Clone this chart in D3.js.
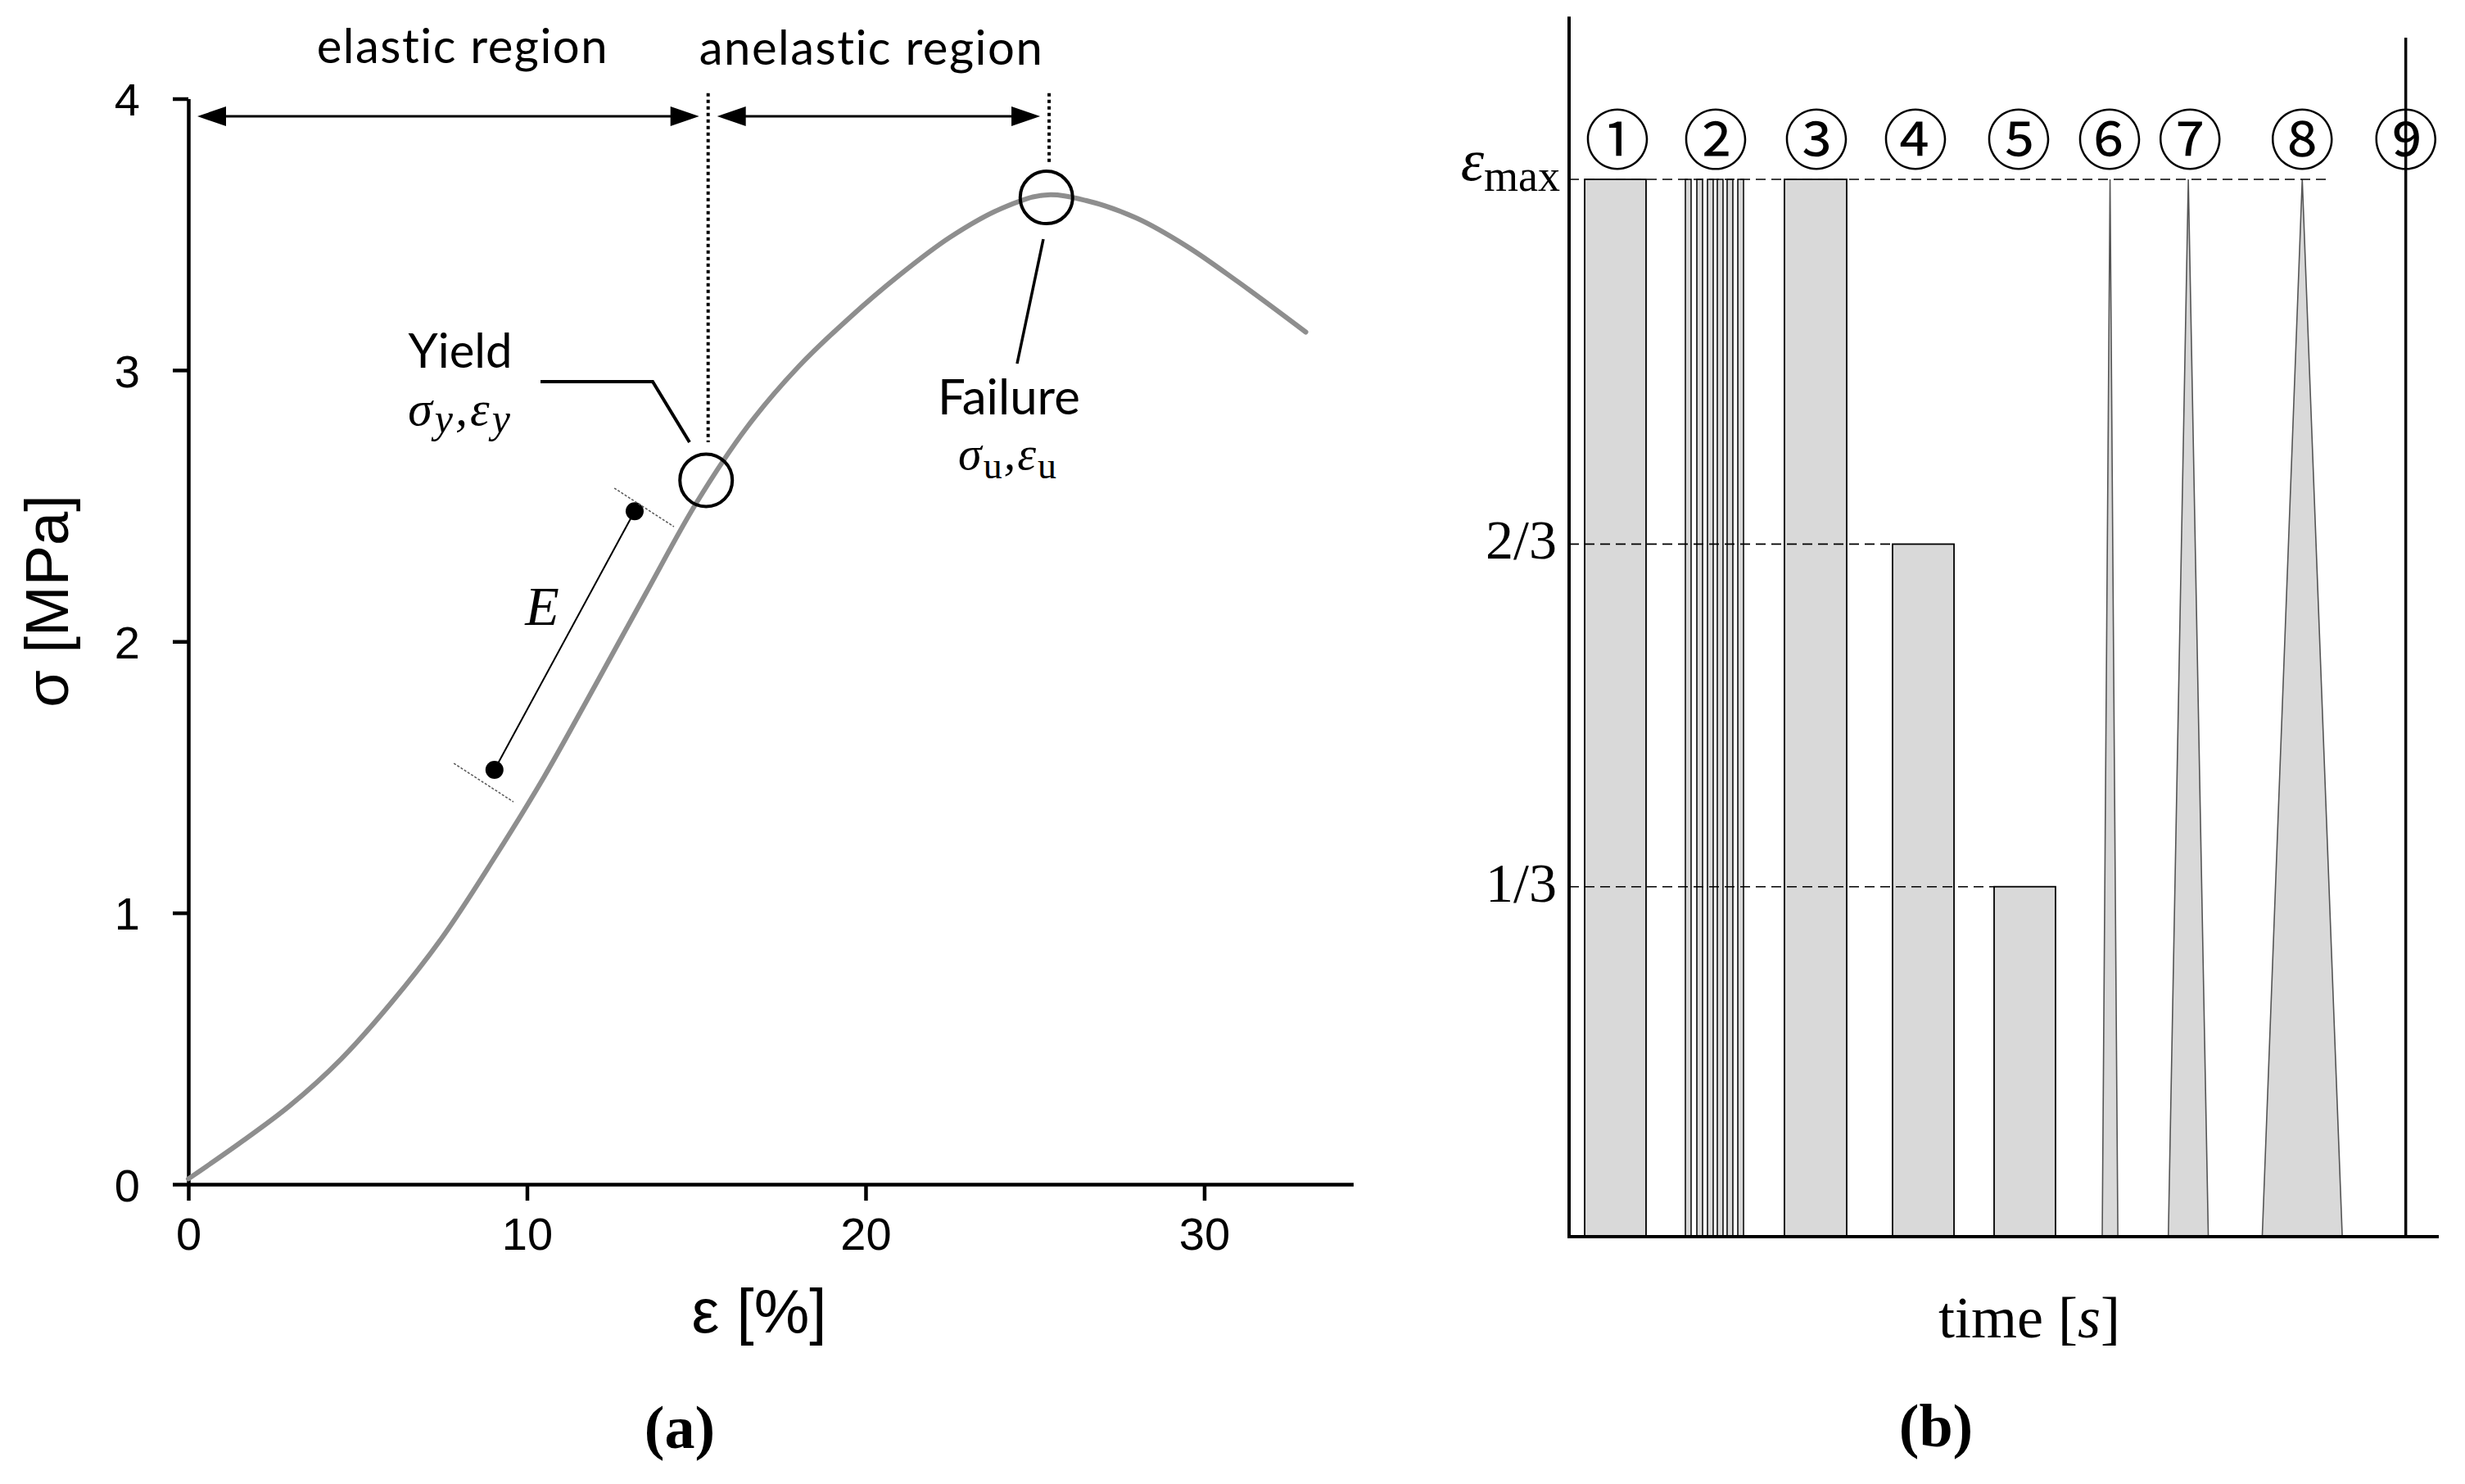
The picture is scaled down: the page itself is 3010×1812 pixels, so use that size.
<!DOCTYPE html>
<html><head><meta charset="utf-8">
<script src="https://cdn.jsdelivr.net/npm/d3@7/dist/d3.min.js"></script>
<style>body{margin:0;background:#fff}svg{display:block}</style>
</head><body>
<svg id="chart" width="3010" height="1812"></svg>
<script>
// ---------- Panel (a): stress-strain curve ----------
const strain = [0, 1.5, 3.0, 4.5, 6.0, 7.5, 9.0, 10.5, 12.0, 13.5, 15.0, 16.5, 18.0, 19.5, 21.0, 22.5, 24.0, 25.3, 26.5, 28.0, 29.5, 31.0, 33.0];
const stress = [0.02, 0.15, 0.29, 0.46, 0.67, 0.91, 1.195, 1.50, 1.835, 2.175, 2.51, 2.79, 3.01, 3.19, 3.35, 3.49, 3.595, 3.645, 3.625, 3.56, 3.455, 3.325, 3.14];
const xTicks = [0, 10, 20, 30];
const yTicks = [0, 1, 2, 3, 4];
const keyNames = ["Yield", "Failure"];
const keyStrain = [15.29, 25.34];
const keyStress = [2.594, 3.636];
const boundaryStrain = [15.35, 25.42];
const boundaryLow = [2.734, 3.757];
const regionNames = ["elastic region", "anelastic region"];
const regionFrom = [0, 15.35];
const regionTo = [15.35, 25.42];
const eStrain = [9.04, 13.18];
const eStress = [1.527, 2.48];
const eTickStrain = [[7.84, 9.60], [12.58, 14.34]];
const eTickStress = [[1.551, 1.409], [2.565, 2.423]];

// ---------- Panel (b): loading protocols ----------
const protocolLabels = ["①", "②", "③", "④", "⑤", "⑥", "⑦", "⑧", "⑨"];
const protocolTime = [5.56, 16.85, 28.44, 39.83, 51.7, 62.15, 71.4, 84.3, 96.2];
const levelLabels = ["max", "2/3", "1/3"];
const levelValues = [1, 0.655, 0.331];
const levelDashEnd = [87.3, 37.19, 48.87];
const holdStart = [1.79, 24.76, 37.19, 48.87];
const holdEnd = [8.85, 31.92, 44.26, 55.93];
const holdLevel = [1, 1, 0.655, 0.331];
const cycleStart = [13.37, 14.69, 15.91, 17.04, 18.17, 19.40];
const cycleEnd = [14.03, 15.35, 16.57, 17.70, 18.83, 20.06];
const rampStart = [61.3, 68.9, 79.7];
const rampPeak = [62.2, 71.2, 84.3];
const rampEnd = [63.1, 73.5, 88.9];
const breakTime = 96.2;

const svg = d3.select("#chart");
svg.append("rect").attr("width", 3010).attr("height", 1812).attr("fill", "#fff");

const x = d3.scaleLinear().domain([0, 34.4]).range([230, 1652.4]);
const y = d3.scaleLinear().domain([0, 4]).range([1446, 120.5]);

const sans = "'Liberation Sans', Arial, sans-serif";
const soft = "Lato, 'Open Sans', sans-serif";
const serif = "'Liberation Serif', 'DejaVu Serif', serif";

// axes
const gx = svg.append("g").attr("transform", `translate(0,${y(0)})`)
  .call(d3.axisBottom(x).tickValues(xTicks).tickFormat(d3.format("d")).tickSize(20).tickSizeOuter(0).tickPadding(20));
const gy = svg.append("g").attr("transform", `translate(${x(0)},0)`)
  .call(d3.axisLeft(y).tickValues(yTicks).tickFormat(d3.format("d")).tickSize(19).tickSizeOuter(0).tickPadding(40));
[gx, gy].forEach(g => {
  g.select(".domain").attr("stroke", "#000").attr("stroke-width", 4.5);
  g.selectAll(".tick line").attr("stroke", "#000").attr("stroke-width", 4.5);
  g.selectAll(".tick text").attr("font-family", sans).attr("font-size", 56).attr("fill", "#000");
});
gy.selectAll(".tick text").attr("dy", "0.36em");

svg.append("text").attr("x", 927).attr("y", 1627).attr("text-anchor", "middle")
  .attr("font-family", sans).attr("font-size", 76).text("ε [%]");
svg.append("text").attr("transform", "translate(83,734) rotate(-90)").attr("text-anchor", "middle")
  .attr("font-family", sans).attr("font-size", 74).text("σ [MPa]");

// curve
const pts = strain.map((s, i) => [s, stress[i]]);
svg.append("path").datum(pts)
  .attr("d", d3.line().x(d => x(d[0])).y(d => y(d[1])).curve(d3.curveCatmullRom.alpha(0.5)))
  .attr("fill", "none").attr("stroke", "#8e8e8e").attr("stroke-width", 6).attr("stroke-linecap", "round");

// boundary dotted lines
boundaryStrain.forEach((s, i) => {
  svg.append("line").attr("x1", x(s)).attr("x2", x(s)).attr("y1", y(4.02)).attr("y2", y(boundaryLow[i]))
    .attr("stroke", "#000").attr("stroke-width", 4).attr("stroke-dasharray", "4,4");
});

// region arrows
const arrowY = y(3.935);
function arrowHead(tipX, dir) {
  const L = 35, H = 12;
  return `M${tipX},${arrowY}L${tipX - dir * L},${arrowY - H}L${tipX - dir * L},${arrowY + H}Z`;
}
regionNames.forEach((name, i) => {
  const a = x(regionFrom[i]) + 11, b = x(regionTo[i]) - 11;
  svg.append("line").attr("x1", a + 10).attr("x2", b - 10).attr("y1", arrowY).attr("y2", arrowY)
    .attr("stroke", "#000").attr("stroke-width", 3);
  svg.append("path").attr("d", arrowHead(a, -1)).attr("fill", "#000");
  svg.append("path").attr("d", arrowHead(b, 1)).attr("fill", "#000");
});
svg.append("text").attr("x", x(8.1)).attr("y", 77).attr("text-anchor", "middle")
  .attr("font-family", soft).attr("font-size", 58).attr("letter-spacing", 1.5).text(regionNames[0]);
svg.append("text").attr("x", x(20.17)).attr("y", 79).attr("text-anchor", "middle")
  .attr("font-family", soft).attr("font-size", 58).attr("letter-spacing", 1.5).text(regionNames[1]);

// key point circles
keyStrain.forEach((s, i) => {
  svg.append("circle").attr("cx", x(s)).attr("cy", y(keyStress[i])).attr("r", 32)
    .attr("fill", "none").attr("stroke", "#000").attr("stroke-width", 4);
});

// yield label + leader
svg.append("path").attr("d", "M660,466L797,466L842,540").attr("fill", "none")
  .attr("stroke", "#000").attr("stroke-width", 4);
svg.append("text").attr("x", 562).attr("y", 449).attr("text-anchor", "middle")
  .attr("font-family", soft).attr("font-size", 58).text(keyNames[0]);
const ym = svg.append("text").attr("x", 562).attr("y", 519).attr("text-anchor", "middle")
  .attr("font-family", serif).attr("font-size", 60).attr("font-style", "italic").attr("letter-spacing", 3);
ym.append("tspan").text("σ");
ym.append("tspan").attr("font-size", 50).attr("dy", 9).text("y");
ym.append("tspan").attr("dy", -9).text(",ε");
ym.append("tspan").attr("font-size", 50).attr("dy", 9).text("y");

// failure label + leader
svg.append("line").attr("x1", 1274).attr("y1", 292).attr("x2", 1242).attr("y2", 444)
  .attr("stroke", "#000").attr("stroke-width", 3.5);
svg.append("text").attr("x", 1232).attr("y", 506).attr("text-anchor", "middle")
  .attr("font-family", soft).attr("font-size", 60).text(keyNames[1]);
const fm = svg.append("text").attr("x", 1231).attr("y", 573).attr("text-anchor", "middle")
  .attr("font-family", serif).attr("font-size", 58).attr("letter-spacing", 2);
fm.append("tspan").attr("font-style", "italic").text("σ");
fm.append("tspan").attr("font-size", 46).attr("dy", 11).text("u");
fm.append("tspan").attr("dy", -11).attr("font-style", "italic").text(",ε");
fm.append("tspan").attr("font-size", 46).attr("dy", 11).text("u");

// E (modulus) marker
svg.append("line").attr("x1", x(eStrain[0])).attr("y1", y(eStress[0])).attr("x2", x(eStrain[1])).attr("y2", y(eStress[1]))
  .attr("stroke", "#000").attr("stroke-width", 2);
eStrain.forEach((s, i) => {
  svg.append("circle").attr("cx", x(s)).attr("cy", y(eStress[i])).attr("r", 11).attr("fill", "#000");
});
eTickStrain.forEach((ss, i) => {
  svg.append("line").attr("x1", x(ss[0])).attr("y1", y(eTickStress[i][0])).attr("x2", x(ss[1])).attr("y2", y(eTickStress[i][1]))
    .attr("stroke", "#555").attr("stroke-width", 1.5).attr("stroke-dasharray", "3,2");
});
svg.append("text").attr("x", 662).attr("y", 763).attr("text-anchor", "middle")
  .attr("font-family", serif).attr("font-style", "italic").attr("font-size", 68).text("E");

svg.append("text").attr("x", 830).attr("y", 1768).attr("text-anchor", "middle")
  .attr("font-family", serif).attr("font-size", 74).attr("font-weight", "bold").text("(a)");

// ---------- Panel (b) ----------
const t = d3.scaleLinear().domain([0, 100]).range([1916, 2978]);
const v = d3.scaleLinear().domain([0, 1]).range([1510, 219]);
const fillGray = "#d9d9d9";

holdStart.forEach((s, i) => {
  svg.append("rect").attr("x", t(s)).attr("y", v(holdLevel[i])).attr("width", t(holdEnd[i]) - t(s))
    .attr("height", v(0) - v(holdLevel[i])).attr("fill", fillGray).attr("stroke", "#000").attr("stroke-width", 1.8);
});
cycleStart.forEach((s, i) => {
  svg.append("rect").attr("x", t(s)).attr("y", v(1)).attr("width", t(cycleEnd[i]) - t(s))
    .attr("height", v(0) - v(1)).attr("fill", fillGray).attr("stroke", "#000").attr("stroke-width", 1.5);
});
rampStart.forEach((s, i) => {
  svg.append("path").attr("d", `M${t(s)},${v(0)}L${t(rampPeak[i])},${v(1)}L${t(rampEnd[i])},${v(0)}Z`)
    .attr("fill", fillGray).attr("stroke", "#555").attr("stroke-width", 1.6);
});
levelValues.forEach((lv, i) => {
  svg.append("line").attr("x1", t(0)).attr("x2", t(levelDashEnd[i])).attr("y1", v(lv)).attr("y2", v(lv))
    .attr("stroke", "#000").attr("stroke-width", 1.6).attr("stroke-dasharray", "12,7");
});
svg.append("line").attr("x1", t(breakTime)).attr("x2", t(breakTime)).attr("y1", v(1.134)).attr("y2", v(0))
  .attr("stroke", "#000").attr("stroke-width", 3.5);
svg.append("line").attr("x1", t(0)).attr("x2", t(0)).attr("y1", v(1.154)).attr("y2", v(0) + 2)
  .attr("stroke", "#000").attr("stroke-width", 4);
svg.append("line").attr("x1", t(0) - 2).attr("x2", t(100)).attr("y1", v(0)).attr("y2", v(0))
  .attr("stroke", "#000").attr("stroke-width", 4);

const em = svg.append("text").attr("x", 1905).attr("y", v(1) + 14).attr("text-anchor", "end")
  .attr("font-family", serif).attr("font-size", 54);
em.append("tspan").attr("font-size", 72).attr("font-style", "italic").attr("dy", -13).text("ε");
em.append("tspan").attr("dy", 13).text(levelLabels[0]);
[1, 2].forEach(i => {
  svg.append("text").attr("x", 1901).attr("y", v(levelValues[i]) + 18).attr("text-anchor", "end")
    .attr("font-family", serif).attr("font-size", 68).text(levelLabels[i]);
});
protocolLabels.forEach((lab, i) => {
  svg.append("text").attr("x", t(protocolTime[i])).attr("y", v(1.042)).attr("text-anchor", "middle")
    .attr("dominant-baseline", "central").attr("font-family", "'Noto Sans CJK JP', 'DejaVu Sans', sans-serif")
    .attr("font-size", 80).text(lab);
});

const tl = svg.append("text").attr("x", 2478).attr("y", 1633).attr("text-anchor", "middle")
  .attr("font-family", serif).attr("font-size", 72);
tl.append("tspan").text("time [");
tl.append("tspan").attr("font-style", "italic").text("s");
tl.append("tspan").text("]");

svg.append("text").attr("x", 2364).attr("y", 1766).attr("text-anchor", "middle")
  .attr("font-family", serif).attr("font-size", 74).attr("font-weight", "bold").text("(b)");
</script>
</body></html>
